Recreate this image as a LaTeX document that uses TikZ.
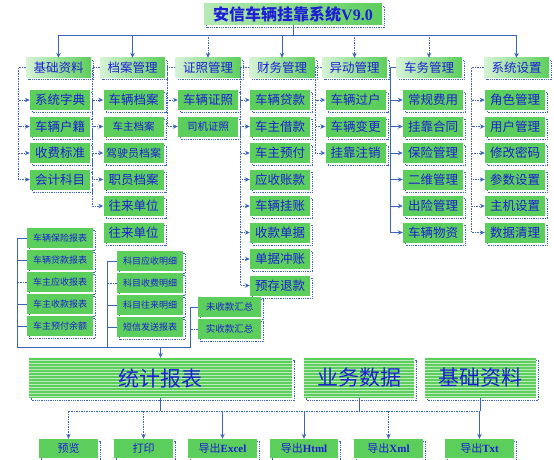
\documentclass[tikz,border=0pt]{standalone}
\usepackage{fontspec}
\setmainfont{Liberation Serif}
\newfontfamily\cjk{Noto Sans CJK SC}
\usetikzlibrary{arrows.meta, shadows, patterns}

\definecolor{boxgreen}{RGB}{92,206,92}
\definecolor{lineblue}{RGB}{60,100,185}
\definecolor{txtblue}{RGB}{30,30,215}
\newcommand{\lat}[1]{{\rmfamily\bfseries #1}}
\newcommand{\fs}[1]{\fontsize{#1}{#1}\selectfont}

\begin{document}
\begin{tikzpicture}[x=1pt, y=-1pt,
  every node/.style={font=\cjk, text=txtblue, inner sep=0pt},
  shd/.style={drop shadow={shadow xshift=2.5pt, shadow yshift=-2.5pt, fill=none, opacity=1,
      draw=lineblue, densely dotted, line width=.8pt}},
  bx/.style={fill=boxgreen, shd, minimum width=60pt, minimum height=20pt, font=\cjk\fs{12.5}},
  hd/.style={bx, left color=boxgreen!25!white, right color=boxgreen, minimum width=65pt, minimum height=19pt},
  rp/.style={bx, minimum width=66pt, font=\cjk\fs{9}},
  big/.style={bx, minimum height=40pt, font=\cjk\fs{21},
      preaction={fill=boxgreen}, pattern=horizontal lines, pattern color=boxgreen!40!white},
  ex/.style={bx, minimum height=19pt, font=\cjk\fs{11}},
  ln/.style={draw=lineblue, line width=.8pt},
  dl/.style={ln, dash pattern=on 1.5pt off 1pt},
  ar/.style={-{Stealth[length=5pt,width=4.5pt]}},
]
\useasboundingbox (0,0) rectangle (554,460);

% title
\node[bx, left color=boxgreen!45!white, right color=boxgreen, minimum width=178pt, minimum height=21pt,
  font=\cjk\fs{16}\bfseries] (xt) at (293,14.5) {安信车辆挂靠系统\lat{V9.0}};

% top row
\node[hd] (jc) at (58.5,67.5) {基础资料};
\node[hd] (da) at (132.5,67.5) {档案管理};
\node[hd] (zz) at (208,67.5) {证照管理};
\node[hd] (cw) at (282,67.5) {财务管理};
\node[hd] (yd) at (354.5,67.5) {异动管理};
\node[hd] (ch) at (429,67.5) {车务管理};
\node[hd] (sz) at (516.5,67.5) {系统设置};

% column 1
\node[bx] (jc1) at (60,100) {系统字典};
\node[bx] (jc2) at (60,126.5) {车辆户籍};
\node[bx] (jc3) at (60,153) {收费标准};
\node[bx] (jc4) at (60,179.5) {会计科目};

% column 2
\node[bx] (da1) at (133.5,100) {车辆档案};
\node[bx, font=\cjk\fs{10.5}] (da2) at (133.5,126.5) {车主档案};
\node[bx, font=\cjk\fs{11}] (da3) at (133.5,153) {驾驶员档案};
\node[bx] (da4) at (133.5,179.5) {职员档案};
\node[bx] (da5) at (133.5,206) {往来单位};
\node[bx] (da6) at (133.5,232.5) {往来单位};

% column 3
\node[bx] (zz1) at (208,100) {车辆证照};
\node[bx, font=\cjk\fs{10.5}] (zz2) at (208,126.5) {司机证照};

% column 4
\node[bx] (cw1) at (280,100) {车辆贷款};
\node[bx] (cw2) at (280,126.5) {车主借款};
\node[bx] (cw3) at (280,153) {车主预付};
\node[bx] (cw4) at (280,179.5) {应收账款};
\node[bx] (cw5) at (280,206) {车辆挂账};
\node[bx] (cw6) at (280,232.5) {收款单据};
\node[bx] (cw7) at (280,259) {单据冲账};
\node[bx] (cw8) at (280,285.5) {预存退款};

% column 5
\node[bx] (yd1) at (355.5,100) {车辆过户};
\node[bx] (yd2) at (355.5,126.5) {车辆变更};
\node[bx] (yd3) at (355.5,153) {挂靠注销};

% column 6
\node[bx] (ch1) at (433,100) {常规费用};
\node[bx] (ch2) at (433,126.5) {挂靠合同};
\node[bx] (ch3) at (433,153) {保险管理};
\node[bx] (ch4) at (433,179.5) {二维管理};
\node[bx] (ch5) at (433,206) {出险管理};
\node[bx] (ch6) at (433,232.5) {车辆物资};

% column 7
\node[bx] (sz1) at (515,100) {角色管理};
\node[bx] (sz2) at (515,126.5) {用户管理};
\node[bx] (sz3) at (515,153) {修改密码};
\node[bx] (sz4) at (515,179.5) {参数设置};
\node[bx] (sz5) at (515,206) {主机设置};
\node[bx] (sz6) at (515,232.5) {数据清理};

% report groups
\node[rp] (bb1) at (60,238) {车辆保险报表};
\node[rp] (bb2) at (60,260) {车辆贷款报表};
\node[rp] (bb3) at (60,282) {车主应收报表};
\node[rp] (bb4) at (60,304) {车主收款报表};
\node[rp] (bb5) at (60,326) {车主预付余额};

\node[rp] (mx1) at (150,261) {科目应收明细};
\node[rp] (mx2) at (150,283) {科目收费明细};
\node[rp] (mx3) at (150,305) {科目往来明细};
\node[rp] (mx4) at (150,327) {短信发送报表};

\node[rp, minimum width=63pt, font=\cjk\fs{9.5}] (hz1) at (229.5,307) {未收款汇总};
\node[rp, minimum width=63pt, font=\cjk\fs{9.5}] (hz2) at (229.5,329) {实收款汇总};

% big boxes
\node[big, minimum width=263pt] (tj) at (160.5,378) {统计报表};
\node[big, minimum width=110pt] (yw) at (359,378) {业务数据};
\node[big, minimum width=111pt] (zl) at (480.5,378) {基础资料};

% export row
\node[ex, minimum width=59pt] (dc1) at (68.5,448.5) {预览};
\node[ex, minimum width=59pt] (dc2) at (143.5,448.5) {打印};
\node[ex, minimum width=69pt] (dc3) at (222.5,448.5) {导出\lat{Excel}};
\node[ex, minimum width=68pt] (dc4) at (304,448.5) {导出\lat{Html}};
\node[ex, minimum width=69pt] (dc5) at (388.5,448.5) {导出\lat{Xml}};
\node[ex, minimum width=69pt] (dc6) at (479.5,448.5) {导出\lat{Txt}};

% top bus
\coordinate (busT) at (0,35);
\draw[ln] (xt.south) -- (xt.south |- busT);
\draw[ln] (jc.north |- busT) -- (sz.north |- busT);
\draw[ln,ar] (jc.north |- busT) -- (jc.north);
\draw[ln,ar] (da.north |- busT) -- (da.north);
\draw[dl,ar] (zz.north |- busT) -- (zz.north);
\draw[ln,ar] (cw.north |- busT) -- (cw.north);
\draw[dl,ar] (yd.north |- busT) -- (yd.north);
\draw[dl,ar] (ch.north |- busT) -- (ch.north);
\draw[ln,ar] (sz.north |- busT) -- (sz.north);

% brackets to children
\draw[dl,ar] (jc.west) -- ++(-7,0) |- (jc1.west);
\draw[dl,ar] (jc.west) -- ++(-7,0) |- (jc2.west);
\draw[dl,ar] (jc.west) -- ++(-7,0) |- (jc3.west);
\draw[dl,ar] (jc.west) -- ++(-7,0) |- (jc4.west);

\draw[dl,ar] (da.west) -- ++(-7,0) |- (da1.west);
\draw[dl,ar] (da.west) -- ++(-7,0) |- (da2.west);
\draw[dl,ar] (da.west) -- ++(-7,0) |- (da3.west);
\draw[dl,ar] (da.west) -- ++(-7,0) |- (da4.west);
\draw[dl,ar] (da.west) -- ++(-7,0) |- (da5.west);

\draw[dl,ar] (zz.west) -- ++(-8,0) |- (zz1.west);
\draw[dl,ar] (zz.west) -- ++(-8,0) |- (zz2.west);

\draw[dl,ar] (cw.west) -- ++(-9,0) |- (cw1.west);
\draw[dl,ar] (cw.west) -- ++(-9,0) |- (cw2.west);
\draw[dl,ar] (cw.west) -- ++(-9,0) |- (cw3.west);
\draw[dl,ar] (cw.west) -- ++(-9,0) |- (cw4.west);
\draw[dl,ar] (cw.west) -- ++(-9,0) |- (cw5.west);
\draw[dl,ar] (cw.west) -- ++(-9,0) |- (cw6.west);
\draw[dl,ar] (cw.west) -- ++(-9,0) |- (cw7.west);
\draw[dl,ar] (cw.west) -- ++(-9,0) |- (cw8.west);

\draw[dl,ar] (yd.west) -- ++(-6,0) |- (yd1.west);
\draw[dl,ar] (yd.west) -- ++(-6,0) |- (yd2.west);
\draw[dl,ar] (yd.west) -- ++(-6,0) |- (yd3.west);

\draw[ln,ar] (ch.west) -- ++(-6,0) |- (ch1.west);
\draw[ln,ar] (ch.west) -- ++(-6,0) |- (ch2.west);
\draw[ln,ar] (ch.west) -- ++(-6,0) |- (ch3.west);
\draw[ln,ar] (ch.west) -- ++(-6,0) |- (ch4.west);
\draw[ln,ar] (ch.west) -- ++(-6,0) |- (ch5.west);
\draw[ln,ar] (ch.west) -- ++(-6,0) |- (ch6.west);

\draw[dl,ar] (sz.west) -- ++(-12,0) |- (sz1.west);
\draw[dl,ar] (sz.west) -- ++(-12,0) |- (sz2.west);
\draw[dl,ar] (sz.west) -- ++(-12,0) |- (sz3.west);
\draw[dl,ar] (sz.west) -- ++(-12,0) |- (sz4.west);
\draw[dl,ar] (sz.west) -- ++(-12,0) |- (sz5.west);
\draw[dl,ar] (sz.west) -- ++(-12,0) |- (sz6.west);

% report lines into the collector
\coordinate (rb) at (17,347);
\coordinate (mb) at (107,347);
\coordinate (sb) at (190,347);
\draw[ln] (bb1.west) -| (rb) -- (sb) |- (hz1.west);
\draw[ln] (bb2.west) -- (bb2.west -| rb);
\draw[dl] (bb3.west) -- (bb3.west -| rb);
\draw[ln] (bb4.west) -- (bb4.west -| rb);
\draw[ln] (bb5.west) -- (bb5.west -| rb);
\draw[ln] (mx1.west) -| (mb);
\draw[dl] (mx2.west) -- (mx2.west -| mb);
\draw[ln] (mx3.west) -- (mx3.west -| mb);
\draw[ln] (mx4.west) -- (mx4.west -| mb);
\draw[dl] (hz2.west) -- (hz2.west -| sb);
\draw[ln,ar] (tj.north |- rb) -- (tj.north);

% bottom bus
\coordinate (busB) at (0,411);
\draw[ln] (tj.south) -- (tj.south |- busB);
\draw[ln] (yw.south) -- (yw.south |- busB);
\draw[ln] (zl.south) -- (zl.south |- busB);
\draw[dl] (dc1.north |- busB) -- (dc6.north |- busB);
\draw[dl,ar] (dc1.north |- busB) -- (dc1.north);
\draw[dl,ar] (dc2.north |- busB) -- (dc2.north);
\draw[ln,ar] (dc3.north |- busB) -- (dc3.north);
\draw[ln,ar] (dc4.north |- busB) -- (dc4.north);
\draw[dl,ar] (dc5.north |- busB) -- (dc5.north);
\draw[ln,ar] (dc6.north |- busB) -- (dc6.north);
\end{tikzpicture}
\end{document}
